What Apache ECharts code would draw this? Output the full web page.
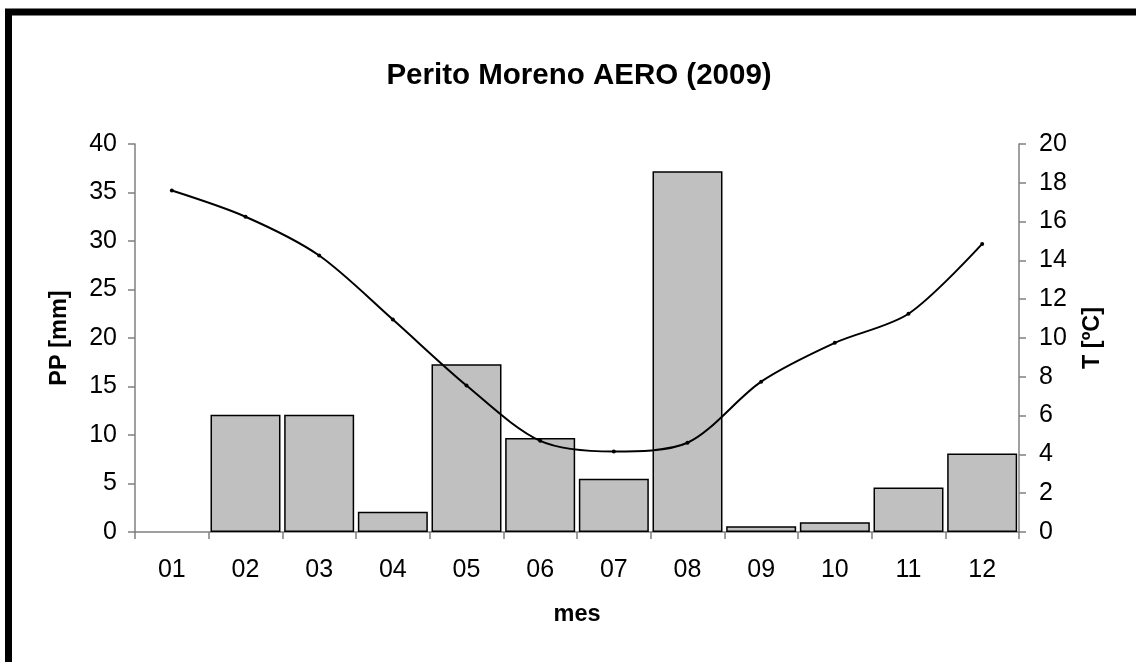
<!DOCTYPE html>
<html>
<head>
<meta charset="utf-8">
<script src="https://cdn.jsdelivr.net/npm/echarts@6/dist/echarts.min.js"></script>
<style>
html,body{margin:0;padding:0;background:#fff;}
#chart{width:1136px;height:662px;}
</style>
</head>
<body>
<div id="chart"></div>
<script>
const months = ['01','02','03','04','05','06','07','08','09','10','11','12'];
const precipitation = [0, 12.1, 12.1, 2.1, 17.3, 9.7, 5.5, 37.2, 0.6, 1.0, 4.6, 8.1];
const temperature = [17.6, 16.25, 14.25, 10.95, 7.55, 4.7, 4.15, 4.6, 7.75, 9.75, 11.25, 14.85];
const chartTitle = 'Perito Moreno AERO (2009)';
const ppName = 'PP [mm]';
const tName = 'T [ºC]';
const xName = 'mes';

const FONT = '"Liberation Sans", Arial, sans-serif';
const barData = precipitation.map(v => v === 0 ? {value: v, itemStyle: {borderWidth: 0}} : v);
const chart = echarts.init(document.getElementById('chart'));
chart.setOption({
  backgroundColor: '#fff',
  animation: false,
  textStyle: {fontFamily: FONT},
  title: {
    text: chartTitle,
    left: 574, top: 56, textAlign: 'center',
    textStyle: {fontFamily: FONT, fontSize: 29.5, fontWeight: 'bold', color: '#000'}
  },
  graphic: [{
    type: 'rect',
    shape: {x: 8.5, y: 12, width: 1400, height: 1000},
    style: {fill: 'none', stroke: '#000', lineWidth: 7},
    silent: true
  }],
  grid: {left: 135, right: 117, top: 144, bottom: 130},
  xAxis: {
    type: 'category',
    data: months,
    name: xName,
    nameLocation: 'middle',
    nameGap: 71,
    nameTextStyle: {fontFamily: FONT, fontSize: 23.5, fontWeight: 'bold', color: '#000'},
    axisLine: {lineStyle: {color: '#808080', width: 1.5}},
    axisTick: {show: true, length: 7, lineStyle: {color: '#808080', width: 1.5}},
    axisLabel: {fontFamily: FONT, fontSize: 25, color: '#000', margin: 26},
    splitLine: {show: false}
  },
  yAxis: [{
    type: 'value', min: 0, max: 40, interval: 5,
    name: ppName, nameLocation: 'middle', nameGap: 63, nameRotate: 90,
    nameTextStyle: {fontFamily: FONT, fontSize: 23.5, fontWeight: 'bold', color: '#000'},
    axisLine: {show: true, lineStyle: {color: '#808080', width: 1.5}},
    axisTick: {show: true, length: 7, lineStyle: {color: '#808080', width: 1.5}},
    axisLabel: {fontFamily: FONT, fontSize: 25, color: '#000', margin: 18},
    splitLine: {show: false}
  }, {
    type: 'value', min: 0, max: 20, interval: 2, position: 'right',
    name: tName, nameLocation: 'middle', nameGap: 62, nameRotate: 90,
    nameTextStyle: {fontFamily: FONT, fontSize: 23.5, fontWeight: 'bold', color: '#000'},
    axisLine: {show: true, lineStyle: {color: '#808080', width: 1.5}},
    axisTick: {show: true, length: 7, lineStyle: {color: '#808080', width: 1.5}},
    axisLabel: {fontFamily: FONT, fontSize: 25, color: '#000', margin: 20},
    splitLine: {show: false}
  }],
  series: [{
    type: 'bar',
    data: barData,
    yAxisIndex: 0,
    barCategoryGap: '5%',
    itemStyle: {color: '#c0c0c0', borderColor: '#000', borderWidth: 1.5},
    z: 2
  }, {
    type: 'line',
    data: temperature,
    yAxisIndex: 1,
    smooth: 0.3,
    symbol: 'circle',
    symbolSize: 4,
    lineStyle: {color: '#000', width: 2},
    itemStyle: {color: '#000'},
    z: 3
  }]
});
</script>
</body>
</html>
